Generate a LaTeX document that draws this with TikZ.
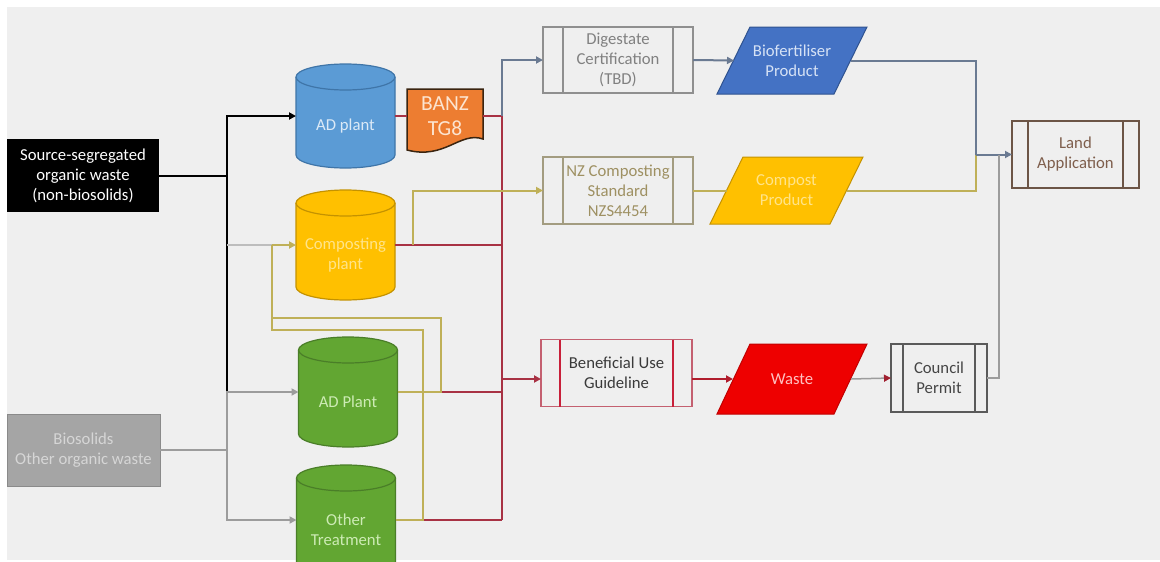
\documentclass[tikz,border=0pt]{standalone}
\usepackage{fontspec}
\setmainfont{Carlito}
\usetikzlibrary{arrows.meta,calc}
\pgfdeclarelayer{back}
\pgfsetlayers{back,main}
\definecolor{bgc}{HTML}{EFEFEF}
\definecolor{bioF}{HTML}{A5A5A5}
\definecolor{bioD}{HTML}{8A8A8A}
\definecolor{bioT}{HTML}{D6D6D6}
\definecolor{adF}{HTML}{5B9BD5}
\definecolor{adD}{HTML}{3F75A8}
\definecolor{adT}{HTML}{DCEAF7}
\definecolor{compF}{HTML}{FFC000}
\definecolor{compD}{HTML}{C49200}
\definecolor{compT}{HTML}{FFE48A}
\definecolor{grnF}{HTML}{62A632}
\definecolor{grnD}{HTML}{4A7E28}
\definecolor{grnT}{HTML}{CDEBB5}
\definecolor{banzF}{HTML}{ED7D31}
\definecolor{banzD}{HTML}{3A2410}
\definecolor{banzT}{HTML}{FCE4D0}
\definecolor{biofF}{HTML}{4472C4}
\definecolor{biofD}{HTML}{2F528F}
\definecolor{biofT}{HTML}{D6E2F5}
\definecolor{wasteF}{HTML}{EE0000}
\definecolor{wasteD}{HTML}{C00000}
\definecolor{wasteT}{HTML}{FFC0C0}
\definecolor{digD}{HTML}{8F8F8F}
\definecolor{digT}{HTML}{808080}
\definecolor{nzcD}{HTML}{A39C80}
\definecolor{nzcT}{HTML}{9E9062}
\definecolor{benD}{HTML}{C46070}
\definecolor{benB}{HTML}{C8203A}
\definecolor{benT}{HTML}{3A3A3A}
\definecolor{landD}{HTML}{6C5546}
\definecolor{landT}{HTML}{7E5E4C}
\definecolor{counD}{HTML}{5A5A5A}
\definecolor{counT}{HTML}{454545}
\definecolor{cgry}{HTML}{9C9C9C}
\definecolor{clgry}{HTML}{BDBDBD}
\definecolor{ctan}{HTML}{BFB058}
\definecolor{cred}{HTML}{A83244}
\definecolor{cbg}{HTML}{6A7A92}
\definecolor{cred2}{HTML}{B01C2C}
\definecolor{tipred}{HTML}{A02030}

\newcommand\drawcyl[3]{%
  \path[fill=#2, draw=#3, line width=1.2pt]
    ($(#1.north west)+(0,13)$) -- ($(#1.south west)+(0,-13)$)
    arc[start angle=180, end angle=360, x radius=49.5pt, y radius=13pt]
    -- ($(#1.north east)+(0,13)$)
    arc[start angle=0, end angle=180, x radius=49.5pt, y radius=13pt] -- cycle;
  \draw[#3, line width=1.2pt] ($(#1.north west)+(0,13)$)
    arc[start angle=180, end angle=360, x radius=49.5pt, y radius=13pt];}
\newcommand\procbars[3]{%
  \draw[#3, line width=1.3pt] ($(#1.north west)+(#2,0)$) -- ($(#1.south west)+(#2,0)$)
    ($(#1.north east)+(-#2,0)$) -- ($(#1.south east)+(-#2,0)$);}
\newcommand\drawpara[3]{%
  \path[fill=#2, draw=#3, line width=1pt] (#1.south west) -- ($(#1.north west)+(33,0)$)
    -- (#1.north east) -- ($(#1.south east)+(-33,0)$) -- cycle;}

\begin{document}
\begin{tikzpicture}[x=1pt,y=-1pt,
  lbl/.style={font=\fontsize{16.7}{20}\selectfont, align=center, inner sep=0pt, outer sep=0pt},
  shapebox/.style={rectangle, inner sep=0pt, outer sep=0pt},
  cyltext/.style={lbl, yshift=-10pt},
  procbox/.style={shapebox, line width=1.3pt, lbl},
  arr/.style={-{Triangle[length=7pt,width=7pt]}},
  lnblk/.style={draw=black, line width=2pt},
  lngry/.style={draw=cgry, line width=2pt},
  lnlgry/.style={draw=clgry, line width=2pt},
  lntan/.style={draw=ctan, line width=2pt},
  lnred/.style={draw=cred, line width=2pt},
  lnbg/.style={draw=cbg, line width=2pt},
  lnred2/.style={draw=cred2, line width=2.2pt},
  lngrya/.style={draw=cgry, line width=1.5pt},
  lngryb/.style={draw=cgry, line width=1.2pt}
]
\useasboundingbox (0,0) rectangle (1160,562);

% sources
\node[shapebox, fill=black, minimum width=152pt, minimum height=73pt, lbl, text=white] (src) at (83,175.5) {Source-segregated\\organic waste\\(non-biosolids)};
\node[shapebox, fill=bioF, draw=bioD, line width=1pt, minimum width=153pt, minimum height=72pt, lbl, text=bioT] (bio) at (83.5,450) {Biosolids\\Other organic waste};

% cylinders
\node[shapebox, minimum width=99pt, minimum height=104pt, label={[cyltext,text=adT]center:{AD plant}}] (ad) at (345.5,116) {};
\node[shapebox, minimum width=99pt, minimum height=110pt, label={[cyltext,text=compT]center:{Composting\\plant}}] (comp) at (345.5,245) {};
\node[shapebox, minimum width=99pt, minimum height=110pt, label={[cyltext,text=grnT]center:{AD Plant}}] (adp) at (348,392) {};
\node[shapebox, minimum width=99pt, minimum height=110pt, label={[cyltext,text=grnT]center:{Other\\Treatment}}] (oth) at (346,520) {};

% BANZ document
\node[shapebox, minimum width=76pt, minimum height=54pt, lbl, font=\fontsize{21.5}{25}\selectfont, text=banzT] (banz) at (445,116) {BANZ\\TG8};

% process boxes
\node[procbox, draw=digD, minimum width=150pt, minimum height=66pt, text=digT] (dig) at (618,60) {Digestate\\Certification\\(TBD)};
\node[procbox, draw=nzcD, minimum width=150pt, minimum height=67pt, text=nzcT] (nzc) at (618,190.5) {NZ Composting\\Standard\\NZS4454};
\node[procbox, draw=benD, minimum width=151pt, minimum height=67pt, text=benT] (ben) at (616.5,373) {Beneficial Use\\Guideline};
\node[procbox, draw=landD, minimum width=127pt, minimum height=67pt, text=landT] (land) at (1075.5,154.5) {Land\\Application};
\node[procbox, draw=counD, minimum width=96pt, minimum height=68pt, text=counT] (council) at (939,378) {Council\\Permit};
\procbars{dig}{20}{digD}
\procbars{nzc}{20}{nzcD}
\procbars{ben}{19}{benB}
\procbars{land}{16}{landD}
\procbars{council}{12}{counD}

% parallelograms
\node[shapebox, minimum width=150pt, minimum height=67pt, lbl, text=biofT] (biof) at (792,60.5) {Biofertiliser\\Product};
\node[shapebox, minimum width=153pt, minimum height=67pt, lbl, text=compT] (compp) at (786.5,190.5) {Compost\\Product};
\node[shapebox, minimum width=150pt, minimum height=70pt, lbl, text=wasteT] (waste) at (792,379) {Waste};

\begin{pgfonlayer}{back}
  \fill[white] (0,0) rectangle (1160,562);
  \fill[bgc] (7,7) rectangle (1160,560);
  \drawcyl{ad}{adF}{adD}
  \drawcyl{comp}{compF}{compD}
  \drawcyl{adp}{grnF}{grnD}
  \drawcyl{oth}{grnF}{grnD}
  \path[fill=banzF, draw=banzD, line width=1.5pt] (banz.north west) -- (banz.north east)
    -- ($(banz.south east)+(0,-4)$)
    .. controls ($(banz.south east)+(-23,-12)$) and ($(banz.south west)+(38,17)$) .. ($(banz.south west)+(0,7)$) -- cycle;
  \drawpara{biof}{biofF}{biofD}
  \drawpara{compp}{compF}{compD}
  \drawpara{waste}{wasteF}{wasteD}
\end{pgfonlayer}

% inputs
\draw[lnblk] (src.east) -- ++(68,0) coordinate (j1);
\draw[lnblk, arr] (j1) |- (ad.west);
\draw[lnblk] (j1) -- (j1 |- adp.west);
\coordinate (tl) at (272,245);
\draw[lnlgry] (j1 |- comp.west) -- (tl);
\draw[lngry, arr] (bio.east) -- ++(67,0) coordinate (j2) |- (adp.west);
\draw[lngry, arr] (j2) |- (oth.west);

% red outputs
\draw[lnred] (ad.east) -- (banz.west);
\draw[lnred] (banz.east) -- ++(19,0) coordinate (r1);
\draw[lnred] (r1) -- (r1 |- oth.east);
\draw[lnred] (comp.east) -- (comp.east -| r1);
\draw[lnred] (adp.east) -- (adp.east -| r1);
\draw[lnred] (oth.east) -- (oth.east -| r1);
\draw[lnred, arr] (r1 |- waste.west) -- (ben.west |- waste.west);

% tan loop back to composting
\coordinate (t1) at (441,318);
\coordinate (t2) at (423,330);
\draw[lntan] (adp.east) -| (t1) -| (tl);
\draw[lntan] (oth.east) -| (t2) -| (tl);
\draw[lntan, arr] (tl) -- (comp.west);

% to standards
\draw[lntan, arr] ($(comp.east)+(18,0)$) |- (nzc.west);
\draw[lnbg, arr] (r1) |- (dig.west);

% to products
\draw[lnbg, arr] (dig.east) -- ($(biof.west)+(17,0)$);
\draw[lntan] (nzc.east) -- ($(compp.west)+(17,0)$);
\draw[lnred2, arr] (ben.east |- waste.west) -- ($(waste.west)+(16,0)$);

% to land application
\coordinate (lj) at ($(land.west)+(-36,0)$);
\draw[lnbg] ($(biof.east)+(-16,0)$) -| (lj);
\draw[lntan] ($(compp.east)+(-16,0)$) -| (lj);
\draw[lnbg, arr] (lj) -- (land.west);
\draw[lngrya, -{Triangle[length=7pt,width=7pt,color=tipred]}] ($(waste.east)+(-16,0)$) -- (council.west);
\draw[lngryb] (council.east) -| ($(land.west)+(-13,0)$);
\end{tikzpicture}
\end{document}
